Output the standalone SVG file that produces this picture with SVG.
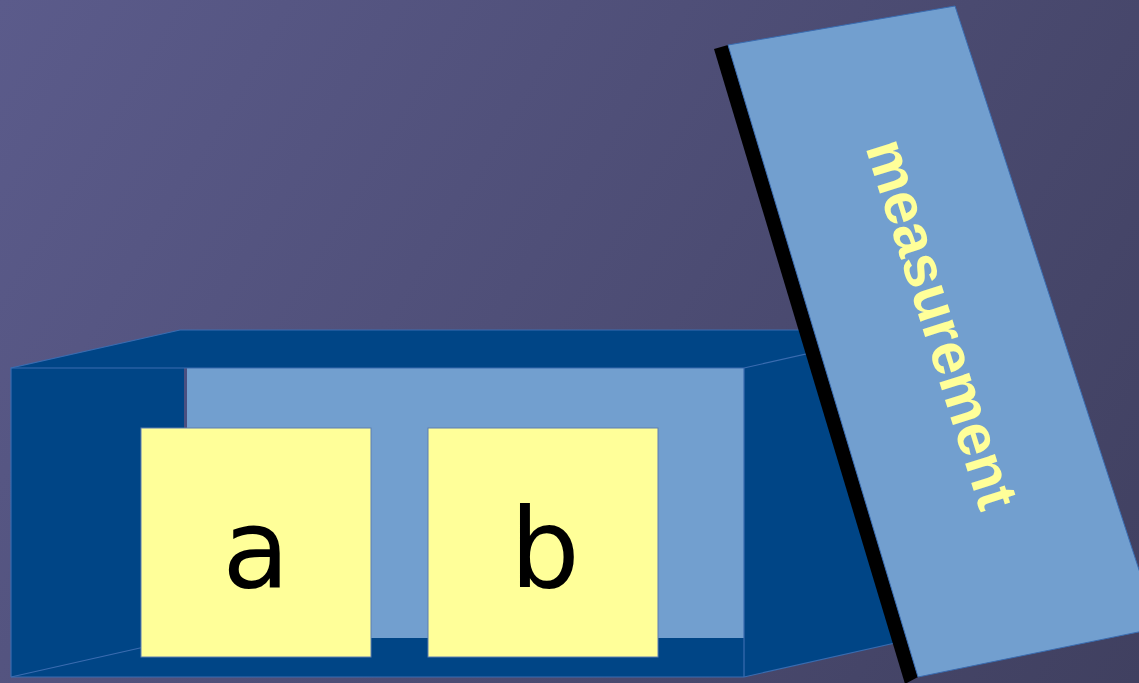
<svg xmlns="http://www.w3.org/2000/svg" width="1139" height="683" viewBox="0 0 1139 683">
  <defs>
    <linearGradient id="bg" x1="0" y1="0" x2="1139" y2="683" gradientUnits="userSpaceOnUse">
      <stop offset="0" stop-color="#5b5b8b"/>
      <stop offset="1" stop-color="#404060"/>
    </linearGradient>
  </defs>
  <style>
    .dark { fill: #004586; }
    .edge { fill: none; stroke: #3a6cb0; stroke-width: 1.2; }
    .light { fill: #729fcf; }
    .card { fill: #ffff99; stroke: #5f7fb0; stroke-width: 1; }
    .big { font-family: "DejaVu Sans", sans-serif; font-size: 110px; fill: #000; text-anchor: middle; }
    .lidtxt { font-family: "Liberation Sans", Arial, sans-serif; font-weight: bold; font-size: 59px; fill: #ffff99; text-anchor: middle; }
  </style>
  <rect x="0" y="0" width="1139" height="683" fill="url(#bg)"/>

  <g id="box">
    <polygon class="dark" points="11,368 180,330 913,330 913,639 744,677 11,677"/>
    <rect class="light" x="187" y="368" width="557" height="270"/>
    <line x1="185.5" y1="368" x2="185.5" y2="638" stroke="#4a4f80" stroke-width="3"/>
    <polyline class="edge" points="11,677 11,368 180,330 913,330"/>
    <line class="edge" x1="11" y1="368" x2="744" y2="368"/>
    <line class="edge" x1="744" y1="368" x2="913" y2="330"/>
    <line class="edge" x1="744" y1="368" x2="744" y2="677"/>
    <line class="edge" x1="744" y1="677" x2="913" y2="639"/>
    <line class="edge" x1="11" y1="677" x2="180" y2="639"/>
    <line class="edge" x1="11" y1="677" x2="744" y2="677"/>
  </g>

  <g id="node-a">
    <rect class="card" x="141" y="428" width="230" height="229"/>
    <text class="big" x="256" y="587">a</text>
  </g>

  <g id="node-b">
    <rect class="card" x="428" y="428" width="230" height="229"/>
    <text class="big" x="545" y="587">b</text>
  </g>

  <g id="lid">
    <polygon fill="#000" points="714,49 728,45 918,677 905,684"/>
    <polygon class="light" stroke="#3a6cb0" stroke-width="1" points="728,45 955,6 1158,628 918,677"/>
    <text class="lidtxt" transform="translate(923,330) rotate(72.5)" x="0" y="0">measurement</text>
  </g>
</svg>
